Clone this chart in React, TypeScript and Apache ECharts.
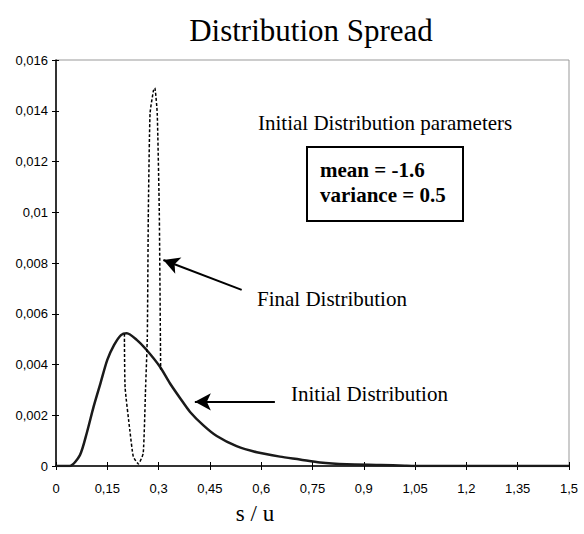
import React, { useEffect, useRef } from "react";
import * as echarts from "echarts";

const TITLE = "Distribution Spread";
const X_NAME = "s / u";

// x values (s/u) and y values for the initial distribution
const initialX = [0, 0.04, 0.07, 0.09, 0.11, 0.13, 0.15, 0.17, 0.19, 0.207, 0.236, 0.265, 0.304, 0.333, 0.363, 0.392, 0.431, 0.47, 0.528, 0.587, 0.655, 0.713, 0.772, 0.85, 0.95, 1.02, 1.05, 1.5];
const initialY = [0, 0, 0.00043, 0.0013, 0.00234, 0.00326, 0.00418, 0.00477, 0.00516, 0.00523, 0.00497, 0.00457, 0.00391, 0.00326, 0.00267, 0.00213, 0.0016, 0.00118, 0.00078, 0.00054, 0.00037, 0.00026, 0.00014, 0.00007, 0.00004, 0.00001, 0, 0];

// final distribution: deviates from the initial one between 0.2 and 0.306
const finalX = [0.2, 0.202, 0.216, 0.226, 0.241, 0.255, 0.262, 0.267, 0.27, 0.275, 0.285, 0.289, 0.296, 0.302, 0.306];
const finalY = [0.0052, 0.0031, 0.0014, 0.00037, 0.00008, 0.0005, 0.0031, 0.0051, 0.01, 0.0139, 0.0148, 0.0149, 0.0139, 0.01, 0.0038];

const xTicks = { min: 0, max: 1.5, interval: 0.15 };
const yTicks = { min: 0, max: 0.016, interval: 0.002 };

const paramTitle = "Initial Distribution parameters";
const paramLines = ["mean = -1.6", "variance = 0.5"];
const finalLabel = "Final Distribution";
const initialLabel = "Initial Distribution";

const SERIF = "'Liberation Serif', 'Times New Roman', serif";
const SANS = "'Liberation Sans', Arial, sans-serif";

const fmt = (v: number) => String(Number(v.toFixed(4))).replace(".", ",");

export default function App() {
  const ref = useRef<HTMLDivElement>(null);
  useEffect(() => {
    if (!ref.current) return;
    const chart = echarts.init(ref.current, null, { renderer: "svg" });
    const gridL = 56, gridT = 60, gridR = 15, gridB = 68;
    const axisCommon = {
      type: "value" as const,
      splitLine: { show: false },
    };
    chart.setOption({
      animation: false,
      backgroundColor: "#fff",
      grid: { left: gridL, top: gridT, right: gridR, bottom: gridB, show: true, borderColor: "#999", borderWidth: 1 },
      xAxis: [
        {
          ...axisCommon,
          ...xTicks,
          position: "bottom",
          axisLine: { show: true, lineStyle: { color: "#000", width: 1.5 } },
          axisTick: { show: true, length: 4, lineStyle: { color: "#000" } },
          axisLabel: { formatter: fmt, color: "#000", fontFamily: SANS, fontSize: 13, margin: 16 },
        },
        {
          ...axisCommon,
          ...xTicks,
          position: "bottom",
          axisLine: { show: false },
          axisTick: { show: true, inside: true, length: 4, lineStyle: { color: "#000" } },
          axisLabel: { show: false },
        },
      ],
      yAxis: [
        {
          ...axisCommon,
          ...yTicks,
          position: "left",
          axisLine: { show: true, lineStyle: { color: "#000", width: 1.5 } },
          axisTick: { show: true, length: 4, lineStyle: { color: "#000" } },
          axisLabel: { formatter: fmt, color: "#000", fontFamily: SANS, fontSize: 13, margin: 8 },
        },
        {
          ...axisCommon,
          ...yTicks,
          position: "left",
          axisLine: { show: false },
          axisTick: { show: true, inside: true, length: 3, lineStyle: { color: "#000" } },
          axisLabel: { show: false },
        },
      ],
      series: [
        {
          type: "line",
          name: "Initial",
          data: initialX.map((x, i) => [x, initialY[i]]),
          showSymbol: false,
          symbol: "none",
          smooth: 0.25,
          lineStyle: { color: "#1a1a1a", width: 2.5 },
          z: 2,
          markLine: {
            silent: true,
            symbol: ["none", "arrow"],
            symbolSize: [13, 16],
            label: { show: false },
            lineStyle: { color: "#000", width: 2, type: "solid" },
            data: [
              [{ coord: [0.543, 0.00694] }, { coord: [0.314, 0.00812] }],
              [{ coord: [0.64, 0.00253] }, { coord: [0.406, 0.00253] }],
            ],
          },
        },
        {
          type: "line",
          name: "Final",
          data: finalX.map((x, i) => [x, finalY[i]]),
          showSymbol: false,
          symbol: "none",
          smooth: 0.15,
          lineStyle: { color: "#000", width: 1.5, type: [3, 2] },
          z: 3,
        },
      ],
      graphic: [
        { type: "text", style: { text: TITLE, font: `31px ${SERIF}`, fill: "#000", x: 311, y: 30, align: "center", verticalAlign: "middle" } },
        { type: "text", style: { text: X_NAME, font: `23px ${SERIF}`, fill: "#000", x: 255, y: 513, align: "center", verticalAlign: "middle" } },
        { type: "text", style: { text: paramTitle, font: `21px ${SERIF}`, fill: "#000", x: 258, y: 123, align: "left", verticalAlign: "middle" } },
        { type: "rect", shape: { x: 307, y: 147, width: 156, height: 74 }, style: { fill: "none", stroke: "#000", lineWidth: 2 } },
        { type: "text", style: { text: paramLines[0], font: `bold 21px ${SERIF}`, fill: "#000", x: 320, y: 170, align: "left", verticalAlign: "middle" } },
        { type: "text", style: { text: paramLines[1], font: `bold 21px ${SERIF}`, fill: "#000", x: 320, y: 195, align: "left", verticalAlign: "middle" } },
        { type: "text", style: { text: finalLabel, font: `21px ${SERIF}`, fill: "#000", x: 257, y: 299, align: "left", verticalAlign: "middle" } },
        { type: "text", style: { text: initialLabel, font: `21px ${SERIF}`, fill: "#000", x: 291, y: 394, align: "left", verticalAlign: "middle" } },
      ],
    });
    return () => chart.dispose();
  }, []);
  return <div ref={ref} style={{ position: "fixed", left: 0, top: 0, width: 584, height: 534 }} />;
}
